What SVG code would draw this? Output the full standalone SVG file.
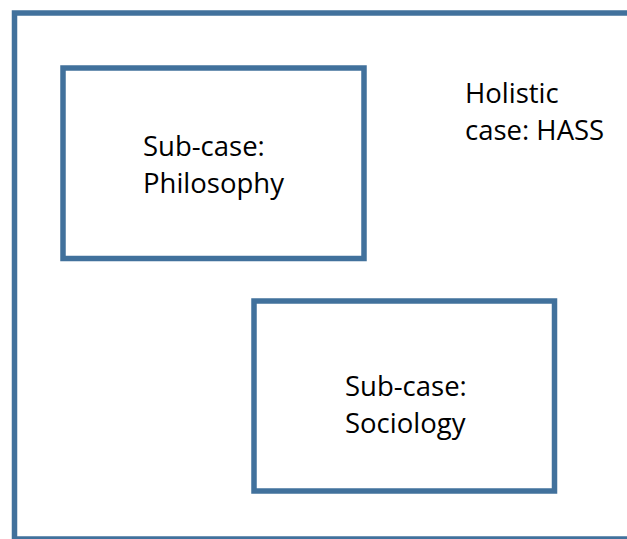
<svg xmlns="http://www.w3.org/2000/svg" width="627" height="539" viewBox="0 0 627 539">
<style>
.box{fill:none;stroke:#41719C;stroke-width:5.5}
.t{font-family:"Open Sans","Liberation Sans",sans-serif;font-size:27.5px;fill:#000}
</style>
<rect width="627" height="539" fill="#fff"/>
<g id="holistic">
<rect class="box" x="14.5" y="13" width="640" height="526"/>
<text class="t" x="465" y="103">Holistic</text>
<text class="t" x="465" y="140">case: HASS</text>
</g>
<g id="philosophy">
<rect class="box" x="63" y="68" width="301" height="190.5"/>
<text class="t" x="143" y="156">Sub-case:</text>
<text class="t" x="143" y="193">Philosophy</text>
</g>
<g id="sociology">
<rect class="box" x="254" y="301" width="300.5" height="190"/>
<text class="t" x="345" y="396">Sub-case:</text>
<text class="t" x="345" y="433">Sociology</text>
</g>
<g id="connectors"></g>
</svg>
